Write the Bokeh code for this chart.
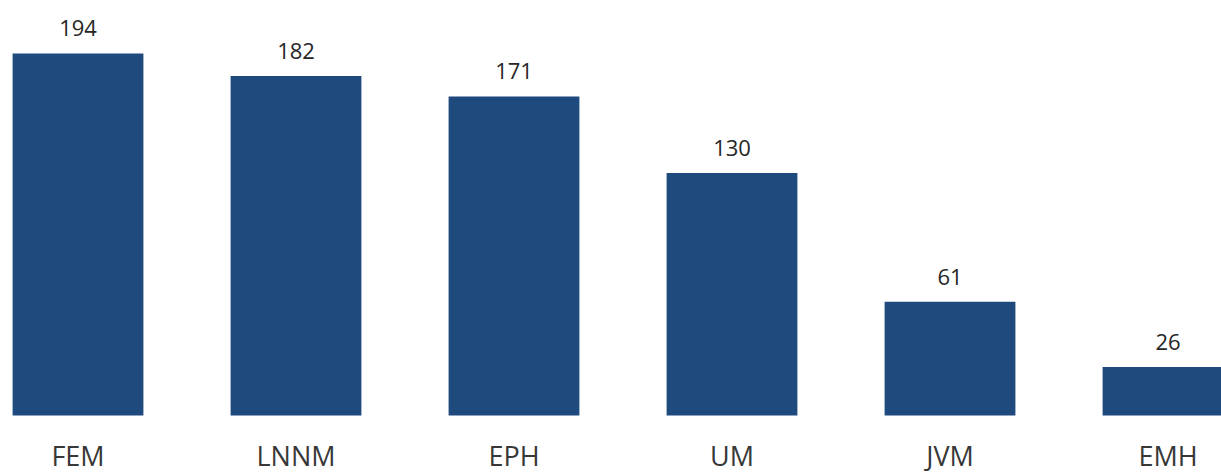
from bokeh.plotting import figure
from bokeh.models import ColumnDataSource, LabelSet, Range1d
from bokeh.core.properties import value
from bokeh.embed import file_html
from bokeh.resources import INLINE

categories = ["FEM", "LNNM", "EPH", "UM", "JVM", "EMH"]
values = [194, 182, 171, 130, 61, 26]

xs = list(range(len(categories)))
src = ColumnDataSource(dict(x=xs, top=values, base=[0] * len(xs),
                            label=[str(v) for v in values], cat=categories))

# frame spans the whole page; the band below y=0 holds the category names
p = figure(width=1221, height=475, output_backend="svg", toolbar_location=None,
           x_range=Range1d(-0.3555, 5.2454), y_range=Range1d(-32.15, 222.4),
           min_border_left=0, min_border_right=0, min_border_top=0, min_border_bottom=0)
p.outline_line_color = None
p.background_fill_color = "white"
p.border_fill_color = "white"
p.grid.visible = False
p.xaxis.visible = False
p.yaxis.visible = False

p.vbar(x="x", top="top", bottom=0, width=0.6, source=src,
       fill_color="#1F4A7E", line_color=None)

labels = LabelSet(x="x", y="top", text="label", source=src, y_offset=17,
                  text_align="center", text_baseline="alphabetic",
                  text_font=value("Open Sans"), text_font_size="22px", text_color="#262626")
p.add_layout(labels)

cat_labels = LabelSet(x="x", y="base", text="cat", source=src, y_offset=-50,
                      text_align="center", text_baseline="alphabetic",
                      text_font=value("Open Sans"), text_font_size="27px", text_color="#383838")
p.add_layout(cat_labels)

open("out.html", "w").write(file_html(p, INLINE))
